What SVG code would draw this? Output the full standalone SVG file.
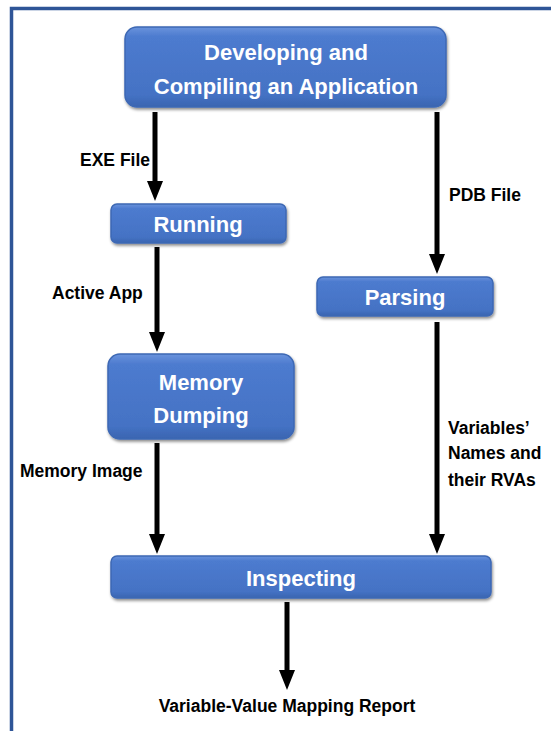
<svg xmlns="http://www.w3.org/2000/svg" width="551" height="731" viewBox="0 0 551 731">
  <style>
    .box { fill: url(#boxFill); stroke: #3d68b4; stroke-width: 1.5; filter: url(#shadow); }
    .ntext { font-family: "Liberation Sans", Arial, sans-serif; font-weight: bold; font-size: 22px; fill: #ffffff; text-anchor: middle; }
    .label { font-family: "Liberation Sans", Arial, sans-serif; font-weight: bold; font-size: 17.5px; fill: #000000; }
    .edge { stroke: #000000; stroke-width: 5; fill: none; marker-end: url(#head); }
  </style>
  <defs>
    <linearGradient id="boxFill" x1="0" y1="0" x2="0" y2="1">
      <stop offset="0" stop-color="#6a93dc"/>
      <stop offset="0.12" stop-color="#4d7bcf"/>
      <stop offset="0.85" stop-color="#4472c4"/>
      <stop offset="1" stop-color="#3a64b0"/>
    </linearGradient>
    <filter id="shadow" x="-10%" y="-20%" width="120%" height="150%">
      <feDropShadow dx="1" dy="2" stdDeviation="1.5" flood-color="#000000" flood-opacity="0.45"/>
    </filter>
    <!-- arrowhead: base sits on the line end, tip 19px beyond -->
    <marker id="head" viewBox="0 0 20 16" refX="1" refY="8" markerWidth="20" markerHeight="16" markerUnits="userSpaceOnUse" orient="auto">
      <path d="M0,0 L20,8 L0,16 Z" fill="#000000"/>
    </marker>
  </defs>

  <rect width="551" height="731" fill="#ffffff"/>
  <!-- outer frame -->
  <path d="M11.5,731 L11.5,8.5 L551,8.5" fill="none" stroke="#2f5597" stroke-width="3.5"/>

  <g id="connectors">
    <line class="edge" x1="155" y1="112" x2="155" y2="182"/>
    <line class="edge" x1="437" y1="112" x2="437" y2="255"/>
    <line class="edge" x1="157" y1="247" x2="157" y2="333"/>
    <line class="edge" x1="157" y1="443" x2="157" y2="535"/>
    <line class="edge" x1="437" y1="322" x2="437" y2="535"/>
    <line class="edge" x1="287" y1="602" x2="287" y2="671"/>
  </g>

  <g id="n-develop">
    <rect class="box" x="125" y="27" width="321" height="80" rx="12"/>
    <text class="ntext" x="286" y="60">Developing and</text>
    <text class="ntext" x="286" y="94">Compiling an Application</text>
  </g>
  <g id="n-running">
    <rect class="box" x="111" y="204" width="175" height="39" rx="6"/>
    <text class="ntext" x="198" y="232">Running</text>
  </g>
  <g id="n-parsing">
    <rect class="box" x="317" y="277" width="176" height="39" rx="6"/>
    <text class="ntext" x="405" y="305">Parsing</text>
  </g>
  <g id="n-memory">
    <rect class="box" x="108" y="354" width="186" height="85" rx="12"/>
    <text class="ntext" x="201" y="390">Memory</text>
    <text class="ntext" x="201" y="423">Dumping</text>
  </g>
  <g id="n-inspecting">
    <rect class="box" x="111" y="556" width="380" height="42" rx="6"/>
    <text class="ntext" x="301" y="586">Inspecting</text>
  </g>

  <g id="labels">
    <text class="label" x="80" y="166">EXE File</text>
    <text class="label" x="449" y="201">PDB File</text>
    <text class="label" x="52" y="299">Active App</text>
    <text class="label" x="20" y="477">Memory Image</text>
    <text class="label" x="448" y="434">Variables’</text>
    <text class="label" x="448" y="459">Names and</text>
    <text class="label" x="448" y="486">their RVAs</text>
    <text class="label" x="287" y="712" text-anchor="middle">Variable-Value Mapping Report</text>
  </g>
</svg>
